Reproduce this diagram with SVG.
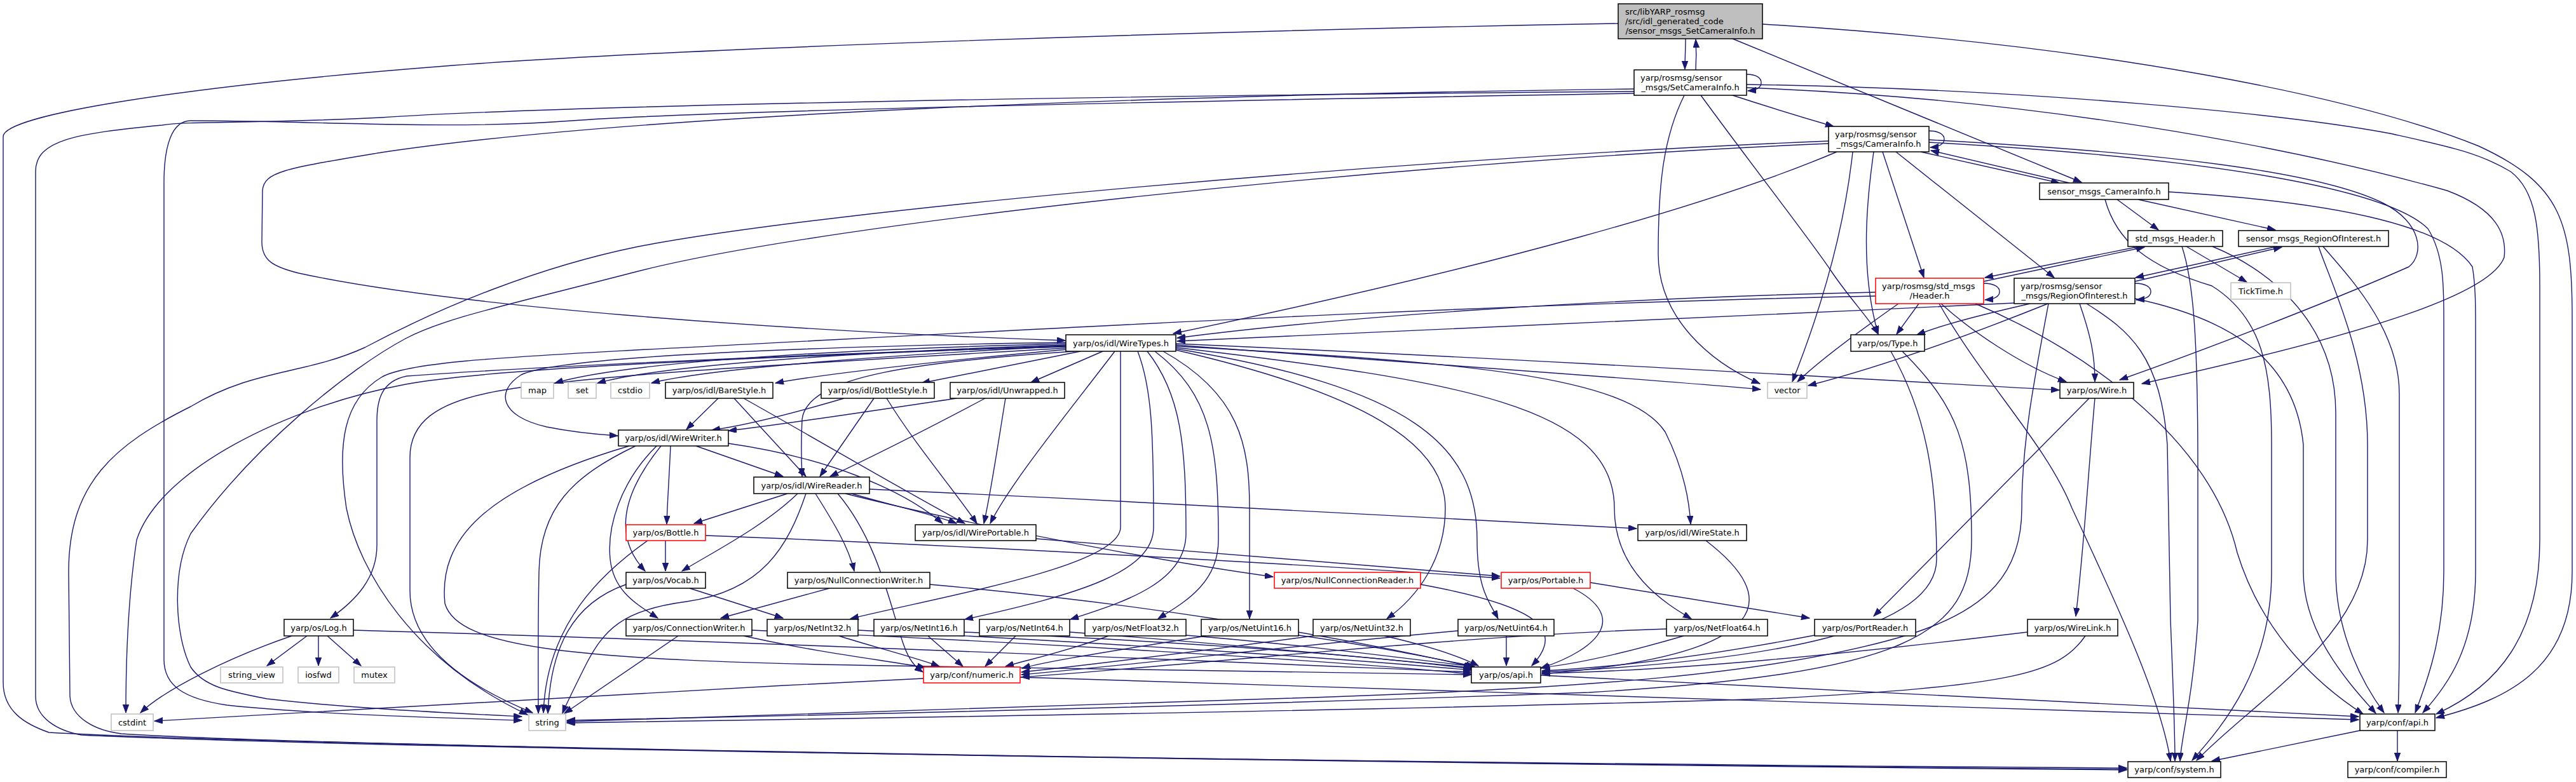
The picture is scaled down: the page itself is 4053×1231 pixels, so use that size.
<svg xmlns="http://www.w3.org/2000/svg" width="4053" height="1231" viewBox="0 0 4053 1231">
<style>
.e path{fill:none;stroke:#191970;stroke-width:1.4;marker-end:url(#ah)}
.n rect{fill:#fff;stroke:#000;stroke-width:1.5}
.g rect{fill:#fff;stroke:#bfbfbf;stroke-width:1.5}
.r rect{fill:#fff;stroke:#ff0000;stroke-width:1.5}
text{font-family:"DejaVu Sans","Liberation Sans",sans-serif;font-size:13px;fill:#000}
.c{text-anchor:middle}
</style>
<defs>
<marker id="ah" markerWidth="14" markerHeight="10" refX="13" refY="4.7" orient="auto" markerUnits="userSpaceOnUse">
<path d="M0,0 L13,4.7 L0,9.4 z" fill="#191970" stroke="#191970" stroke-width="1"/>
</marker>
</defs>
<rect width="4053" height="1231" fill="#fff"/>
<g id="edges" class="e">
<path d="M2652,61 C2652,78 2651,92 2651,109"/>
<path d="M2668,110 C2669,93 2669,78 2668,62"/>
<path d="M2748,117 C2764,117 2771,123 2771,130 C2771,137 2765,142 2750,143"/>
<path d="M2726,150 C2775,166 2830,183 2885,199"/>
<path d="M2726,61 L3275,287"/>
<path d="M3035,206 C3051,206 3059,212 3059,219 C3059,226 3053,231 3037,232"/>
<path d="M3022,239 L3240,288"/>
<path d="M3256,288 L3038,237"/>
<path d="M3331,314 L3396,362"/>
<path d="M3364,314 L3580,362"/>
<path d="M3366,388 L3123,437"/>
<path d="M3121,443 L3374,389"/>
<path d="M3582,388 L3360,437"/>
<path d="M3359,443 L3590,389"/>
<path d="M3121,446 C3138,446 3146,452 3146,459 C3146,466 3139,471 3123,472"/>
<path d="M3359,446 C3376,446 3384,452 3384,459 C3384,466 3377,471 3361,472"/>
<path d="M2962,239 L3027,437"/>
<path d="M2983,239 L3232,437"/>
<path d="M2948,239 C2935,330 2928,430 2955,526"/>
<path d="M2915,239 C2905,330 2880,450 2820,601"/>
<path d="M2890,239 C2700,320 2350,420 1846,525"/>
<path d="M3440,388 L3535,444"/>
<path d="M2676,150 C2760,265 2850,380 2880,425 C2910,470 2940,500 2955,526"/>
<path d="M2650,150 C2615,220 2609,300 2609,400 C2609,500 2690,570 2769,604"/>
<path d="M3019,478 L2984,526"/>
<path d="M3194,478 C3120,495 3060,510 3016,527"/>
<path d="M2987,478 C2920,525 2860,570 2828,601"/>
<path d="M3222,478 C3080,535 2950,580 2845,607"/>
<path d="M3054,478 C3100,520 3180,575 3251,601"/>
<path d="M3272,478 C3290,530 3296,560 3296,601"/>
<path d="M2951,460 C2500,470 2100,500 1852,532"/>
<path d="M3169,477 C2700,500 2200,520 1852,537"/>
<path d="M2773,38 C3300,70 3700,150 3900,230 C4030,290 4047,350 4047,500 L4047,900 C4047,1050 3950,1100 3833,1130"/>
<path d="M2748,133 C3200,140 3600,180 3760,210 C3850,230 3900,240 3950,270 C3990,300 3996,360 3996,450 L3996,850 C3996,1000 3930,1080 3833,1124"/>
<path d="M2748,138 C3200,155 3600,230 3850,300 C3930,330 3944,370 3940,405 C3920,460 3750,520 3370,604"/>
<path d="M3035,220 C3400,240 3650,270 3750,320 C3810,350 3815,400 3790,420 C3700,460 3500,540 3335,598"/>
<path d="M3035,224 C3500,250 3760,300 3820,360 C3845,400 3845,450 3845,500 L3845,900 C3845,1000 3820,1070 3800,1122"/>
<path d="M3412,302 C3700,320 3850,360 3890,420 C3895,450 3895,480 3895,520 L3895,900 C3895,1020 3850,1080 3812,1122"/>
<path d="M3655,388 C3700,440 3775,520 3775,620 L3775,1000 C3775,1060 3774,1095 3773,1122"/>
<path d="M3648,388 C3665,440 3725,560 3725,700 L3725,850 C3725,1000 3550,1100 3456,1197"/>
<path d="M3481,388 C3560,420 3675,500 3675,650 L3675,900 C3675,1000 3720,1080 3751,1122"/>
<path d="M3359,470 C3500,500 3610,560 3624,700 L3624,900 C3624,1000 3700,1080 3738,1123"/>
<path d="M3312,314 C3330,380 3380,420 3480,450 C3560,500 3574,580 3574,700 L3574,900 C3574,1050 3500,1140 3449,1197"/>
<path d="M3433,388 C3450,440 3458,520 3458,736 L3458,977 C3450,1100 3432,1160 3430,1198"/>
<path d="M3283,478 C3350,520 3400,560 3410,700 L3415,976 C3420,1100 3422,1160 3422,1198"/>
<path d="M3051,478 C3120,600 3220,700 3260,800 C3330,950 3400,1100 3415,1198"/>
<path d="M3108,478 C3300,560 3480,700 3520,870 C3560,1000 3650,1080 3718,1124"/>
<path d="M2975,553 C3030,650 3047,750 3047,880 C3047,990 2800,1040 2426,1058"/>
<path d="M2993,553 C3080,640 3102,700 3102,850 C3102,1000 3000,1060 2500,1090 C1800,1115 1200,1128 892,1134"/>
<path d="M3223,478 C3200,600 3181,700 3181,800 C3181,900 3130,960 3000,1000 C2800,1060 2500,1085 2000,1100 C1500,1115 1100,1128 892,1136"/>
<path d="M3287,627 L2948,970"/>
<path d="M3296,627 C3285,750 3280,850 3266,970"/>
<path d="M2502,917 L2847,973"/>
<path d="M2684,851 C2800,940 2800,1030 2426,1061"/>
<path d="M1630,848 C1900,870 2200,895 2360,907"/>
<path d="M1110,843 C1500,858 2000,885 2360,910"/>
<path d="M1330,777 C1500,820 1800,880 2003,908"/>
<path d="M483,1001 L420,1048"/>
<path d="M501,1001 L501,1048"/>
<path d="M515,1001 L568,1048"/>
<path d="M459,1001 C360,1035 260,1085 221,1122"/>
<path d="M1453,1068 C1000,1090 500,1120 243,1135"/>
<path d="M1677,544 C1300,560 800,575 638,605 C450,640 250,740 215,850 C200,950 198,1050 198,1122"/>
<path d="M556,992 C1200,1010 2000,1045 2315,1058"/>
<path d="M1605,1066 C2500,1090 3300,1118 3711,1133"/>
<path d="M2424,1063 C3000,1090 3400,1115 3711,1128"/>
<path d="M3713,1150 L3480,1198"/>
<path d="M3772,1150 L3772,1198"/>
<path d="M1320,1001 C1380,1020 1440,1035 1478,1049"/>
<path d="M1350,992 C1700,1010 2100,1035 2315,1055"/>
<path d="M1460,1001 L1515,1049"/>
<path d="M1517,995 C1900,1012 2150,1032 2316,1053"/>
<path d="M1598,1001 L1550,1049"/>
<path d="M1683,995 C1950,1015 2150,1035 2316,1051"/>
<path d="M1744,1001 C1680,1025 1620,1038 1582,1049"/>
<path d="M1866,1000 C2050,1015 2200,1035 2317,1049"/>
<path d="M1897,1001 C1750,1025 1650,1040 1608,1052"/>
<path d="M2043,1000 C2150,1015 2250,1035 2320,1049"/>
<path d="M2066,1001 C1850,1030 1700,1048 1607,1058"/>
<path d="M2178,1001 C2240,1015 2290,1030 2326,1048"/>
<path d="M2294,993 C2000,1020 1800,1045 1607,1062"/>
<path d="M2370,1001 L2370,1048"/>
<path d="M2622,990 C2300,1000 1900,1045 1607,1066"/>
<path d="M2649,1001 C2550,1030 2480,1045 2425,1051"/>
<path d="M2855,1000 C2700,1030 2550,1050 2426,1056"/>
<path d="M3190,995 C2900,1030 2650,1055 2426,1060"/>
<path d="M3281,1001 C3240,1060 3170,1080 2783,1100 C2200,1118 1400,1130 892,1138"/>
<path d="M1067,1001 L888,1123"/>
<path d="M1170,1001 C1300,1030 1400,1040 1456,1051"/>
<path d="M1183,992 C1600,1010 2100,1040 2315,1061"/>
<path d="M1305,926 L1134,973"/>
<path d="M1463,920 C1800,950 2100,1000 2318,1050"/>
<path d="M1085,926 L1232,973"/>
<path d="M985,920 C900,950 866,1020 862,1123"/>
<path d="M1047,851 L1047,899"/>
<path d="M1019,851 C950,900 860,980 855,1122"/>
<path d="M1095,702 L1232,750"/>
<path d="M1055,702 C1053,750 1050,790 1049,825"/>
<path d="M1040,702 C985,770 960,840 1015,899"/>
<path d="M1033,702 C975,760 955,830 960,880 C965,930 1000,950 1035,973"/>
<path d="M1000,702 C900,750 850,800 848,900 C846,1000 847,1080 847,1123"/>
<path d="M990,702 C760,770 690,850 700,950 C720,1020 900,1040 1400,1048 C1800,1053 2100,1057 2315,1062"/>
<path d="M1146,698 C1300,720 1420,770 1483,824"/>
<path d="M1239,777 L1092,824"/>
<path d="M1255,777 C1200,830 1120,870 1073,899"/>
<path d="M1268,777 C1240,860 1200,930 1080,947 C980,960 950,990 920,1050 C900,1090 890,1110 885,1123"/>
<path d="M1283,777 C1310,820 1335,860 1344,899"/>
<path d="M1368,770 C1800,790 2300,815 2575,832"/>
<path d="M1340,777 C1400,795 1470,810 1505,824"/>
<path d="M1318,777 C1380,850 1400,950 1420,1010 C1430,1040 1440,1050 1452,1058"/>
<path d="M2235,920 C2400,950 2470,985 2410,1048"/>
<path d="M2475,926 C2560,970 2520,1020 2424,1052"/>
<path d="M1130,627 L1080,676"/>
<path d="M1155,627 L1268,750"/>
<path d="M1170,627 C1300,700 1400,760 1518,824"/>
<path d="M1328,627 C1250,650 1170,670 1120,677"/>
<path d="M1375,627 L1290,750"/>
<path d="M1395,627 C1440,700 1500,770 1537,824"/>
<path d="M1505,627 C1350,650 1220,670 1146,678"/>
<path d="M1550,627 C1450,680 1370,720 1306,750"/>
<path d="M1582,627 C1570,700 1560,770 1548,824"/>
<path d="M1677,541 C1400,548 1000,565 873,603"/>
<path d="M1677,543 C1400,552 1050,572 940,603"/>
<path d="M1677,545 C1450,556 1120,578 1025,603"/>
<path d="M1680,550 C1500,566 1300,588 1220,603"/>
<path d="M1700,553 L1450,603"/>
<path d="M1735,553 L1622,602"/>
<path d="M1754,553 C1680,650 1590,760 1558,824"/>
<path d="M1763,553 L1763,830 C1763,890 1500,935 1338,974"/>
<path d="M1790,553 C1812,610 1815,680 1815,830 C1815,900 1700,935 1518,975"/>
<path d="M1805,553 C1858,620 1866,700 1866,840 C1866,920 1760,950 1684,975"/>
<path d="M1817,553 C1905,620 1917,700 1917,850 C1917,920 1860,950 1822,974"/>
<path d="M1830,553 C1950,620 1966,700 1966,800 L1966,974"/>
<path d="M1850,551 C2150,620 2274,700 2274,800 C2274,880 2230,940 2182,974"/>
<path d="M1850,549 C2220,610 2324,700 2324,850 C2324,930 2345,950 2357,974"/>
<path d="M1850,547 C2300,600 2540,640 2540,800 C2540,900 2620,950 2661,974"/>
<path d="M1850,545 C2300,570 2560,590 2620,680 C2650,740 2658,790 2660,825"/>
<path d="M1850,543 C2200,570 2600,597 2770,613"/>
<path d="M1850,541 C2400,565 2900,595 3240,614"/>
<path d="M1677,539 C1300,545 880,560 820,590 C780,615 785,655 860,672 C900,680 940,684 972,686"/>
<path d="M1690,553 C1450,570 1270,590 1262,660 C1260,700 1261,730 1262,750"/>
<path d="M1677,548 C1300,570 900,590 766,619 C690,635 645,663 645,720 L645,930 C645,1030 760,1090 838,1122"/>
<path d="M1677,546 C1300,555 800,580 640,592 C600,600 593,630 593,663 L593,858 C593,910 560,945 520,973"/>
<path d="M2951,466 C2300,480 1700,515 1000,551 C800,562 640,570 600,594 C540,630 530,700 545,800 C565,900 650,1040 830,1125"/>
<path d="M2546,37 C1800,50 1000,80 700,104 C300,135 5,180 5,215 L5,1074 C5,1120 40,1140 77,1153 C400,1172 2000,1200 3346,1211"/>
<path d="M2571,144 C1800,150 900,165 600,185 C400,195 300,190 255,197 C120,210 56,220 56,270 L56,1096 C56,1130 90,1150 128,1157 C500,1175 2000,1200 3346,1209"/>
<path d="M2877,222 C2200,250 1300,330 1000,389 C850,420 700,480 574,547 C480,590 400,580 300,640 C180,700 108,760 108,900 L110,1096 C112,1130 150,1150 191,1155 C500,1175 2000,1200 3346,1212"/>
<path d="M2571,147 C1800,160 1100,175 900,190 C700,205 500,190 300,190 C270,190 258,230 258,288 L258,1038 C258,1080 290,1100 357,1110 C500,1125 700,1130 821,1134"/>
<path d="M2571,140 C1800,150 1000,180 600,240 C450,265 415,270 413,300 L412,381 C412,410 430,420 470,430 C700,480 1200,520 1676,536"/>
<path d="M2877,226 C2200,255 1300,350 1000,428 C800,480 700,500 638,533 C550,580 400,700 300,840 C270,900 275,1000 300,1050 C320,1080 357,1088 420,1100 C550,1115 700,1122 821,1128"/>
</g>
<g id="n0" class="n"><rect x="2546" y="6" width="227" height="55" style="fill:#bfbfbf"/><text x="2557" y="22.5">src/libYARP_rosmsg</text><text x="2557" y="37.5">/src/idl_generated_code</text><text x="2659.5" y="52.5" class="c">/sensor_msgs_SetCameraInfo.h</text></g>
<g id="n1" class="n"><rect x="2571" y="110" width="177" height="40"/><text x="2581" y="126.5">yarp/rosmsg/sensor</text><text x="2659.5" y="141.5" class="c">_msgs/SetCameraInfo.h</text></g>
<g id="n2" class="n"><rect x="2877" y="199" width="158" height="40"/><text x="2887" y="215.5">yarp/rosmsg/sensor</text><text x="2956" y="230.5" class="c">_msgs/CameraInfo.h</text></g>
<g id="n3" class="n"><rect x="3209" y="288" width="203" height="26"/><text x="3310.5" y="305.5" class="c">sensor_msgs_CameraInfo.h</text></g>
<g id="n4" class="n"><rect x="3348" y="363" width="149" height="25"/><text x="3422.5" y="380" class="c">std_msgs_Header.h</text></g>
<g id="n5" class="n"><rect x="3522" y="363" width="236" height="25"/><text x="3640" y="380" class="c">sensor_msgs_RegionOfInterest.h</text></g>
<g id="n6" class="r"><rect x="2951" y="438" width="170" height="40"/><text x="2961" y="454.5">yarp/rosmsg/std_msgs</text><text x="3036" y="469.5" class="c">/Header.h</text></g>
<g id="n7" class="n"><rect x="3169" y="438" width="190" height="40"/><text x="3179" y="454.5">yarp/rosmsg/sensor</text><text x="3264" y="469.5" class="c">_msgs/RegionOfInterest.h</text></g>
<g id="n8" class="g"><rect x="3510" y="445" width="94" height="26"/><text x="3557" y="462.5" class="c">TickTime.h</text></g>
<g id="n9" class="n"><rect x="1677" y="527" width="173" height="26"/><text x="1763.5" y="544.5" class="c">yarp/os/idl/WireTypes.h</text></g>
<g id="n10" class="n"><rect x="2912" y="527" width="116" height="26"/><text x="2970" y="544.5" class="c">yarp/os/Type.h</text></g>
<g id="n11" class="g"><rect x="820" y="602" width="51" height="25"/><text x="845.5" y="619" class="c">map</text></g>
<g id="n12" class="g"><rect x="894" y="602" width="44" height="25"/><text x="916" y="619" class="c">set</text></g>
<g id="n13" class="g"><rect x="961" y="602" width="61" height="25"/><text x="991.5" y="619" class="c">cstdio</text></g>
<g id="n14" class="n"><rect x="1047" y="602" width="169" height="25"/><text x="1131.5" y="619" class="c">yarp/os/idl/BareStyle.h</text></g>
<g id="n15" class="n"><rect x="1292" y="602" width="178" height="25"/><text x="1381" y="619" class="c">yarp/os/idl/BottleStyle.h</text></g>
<g id="n16" class="n"><rect x="1495" y="602" width="180" height="25"/><text x="1585" y="619" class="c">yarp/os/idl/Unwrapped.h</text></g>
<g id="n17" class="g"><rect x="2781" y="602" width="62" height="25"/><text x="2812" y="619" class="c">vector</text></g>
<g id="n18" class="n"><rect x="3241" y="602" width="116" height="25"/><text x="3299" y="619" class="c">yarp/os/Wire.h</text></g>
<g id="n19" class="n"><rect x="973" y="677" width="173" height="25"/><text x="1059.5" y="694" class="c">yarp/os/idl/WireWriter.h</text></g>
<g id="n20" class="n"><rect x="1186" y="751" width="182" height="26"/><text x="1277" y="768.5" class="c">yarp/os/idl/WireReader.h</text></g>
<g id="n21" class="r"><rect x="985" y="826" width="125" height="25"/><text x="1047.5" y="843" class="c">yarp/os/Bottle.h</text></g>
<g id="n22" class="n"><rect x="1440" y="826" width="190" height="25"/><text x="1535" y="843" class="c">yarp/os/idl/WirePortable.h</text></g>
<g id="n23" class="n"><rect x="2577" y="826" width="171" height="25"/><text x="2662.5" y="843" class="c">yarp/os/idl/WireState.h</text></g>
<g id="n24" class="n"><rect x="985" y="901" width="125" height="25"/><text x="1047.5" y="918" class="c">yarp/os/Vocab.h</text></g>
<g id="n25" class="n"><rect x="1239" y="901" width="224" height="25"/><text x="1351" y="918" class="c">yarp/os/NullConnectionWriter.h</text></g>
<g id="n26" class="r"><rect x="2005" y="901" width="230" height="25"/><text x="2120" y="918" class="c">yarp/os/NullConnectionReader.h</text></g>
<g id="n27" class="r"><rect x="2362" y="901" width="140" height="25"/><text x="2432" y="918" class="c">yarp/os/Portable.h</text></g>
<g id="n28" class="n"><rect x="447" y="975" width="109" height="26"/><text x="501.5" y="992.5" class="c">yarp/os/Log.h</text></g>
<g id="n29" class="n"><rect x="985" y="975" width="198" height="26"/><text x="1084" y="992.5" class="c">yarp/os/ConnectionWriter.h</text></g>
<g id="n30" class="n"><rect x="1207" y="975" width="143" height="26"/><text x="1278.5" y="992.5" class="c">yarp/os/NetInt32.h</text></g>
<g id="n31" class="n"><rect x="1375" y="975" width="142" height="26"/><text x="1446" y="992.5" class="c">yarp/os/NetInt16.h</text></g>
<g id="n32" class="n"><rect x="1541" y="975" width="142" height="26"/><text x="1612" y="992.5" class="c">yarp/os/NetInt64.h</text></g>
<g id="n33" class="n"><rect x="1707" y="975" width="159" height="26"/><text x="1786.5" y="992.5" class="c">yarp/os/NetFloat32.h</text></g>
<g id="n34" class="n"><rect x="1890" y="975" width="153" height="26"/><text x="1966.5" y="992.5" class="c">yarp/os/NetUint16.h</text></g>
<g id="n35" class="n"><rect x="2066" y="975" width="153" height="26"/><text x="2142.5" y="992.5" class="c">yarp/os/NetUint32.h</text></g>
<g id="n36" class="n"><rect x="2294" y="975" width="151" height="26"/><text x="2369.5" y="992.5" class="c">yarp/os/NetUint64.h</text></g>
<g id="n37" class="n"><rect x="2622" y="975" width="159" height="26"/><text x="2701.5" y="992.5" class="c">yarp/os/NetFloat64.h</text></g>
<g id="n38" class="n"><rect x="2855" y="975" width="159" height="26"/><text x="2934.5" y="992.5" class="c">yarp/os/PortReader.h</text></g>
<g id="n39" class="n"><rect x="3190" y="975" width="142" height="26"/><text x="3261" y="992.5" class="c">yarp/os/WireLink.h</text></g>
<g id="n40" class="g"><rect x="347" y="1050" width="98" height="25"/><text x="396" y="1067" class="c">string_view</text></g>
<g id="n41" class="g"><rect x="469" y="1050" width="64" height="25"/><text x="501" y="1067" class="c">iosfwd</text></g>
<g id="n42" class="g"><rect x="557" y="1050" width="64" height="25"/><text x="589" y="1067" class="c">mutex</text></g>
<g id="n43" class="r"><rect x="1453" y="1050" width="152" height="25"/><text x="1529" y="1067" class="c">yarp/conf/numeric.h</text></g>
<g id="n44" class="n"><rect x="2315" y="1050" width="109" height="25"/><text x="2369.5" y="1067" class="c">yarp/os/api.h</text></g>
<g id="n45" class="g"><rect x="175" y="1124" width="66" height="26"/><text x="208" y="1141.5" class="c">cstdint</text></g>
<g id="n46" class="g"><rect x="832" y="1124" width="58" height="26"/><text x="861" y="1141.5" class="c">string</text></g>
<g id="n47" class="n"><rect x="3713" y="1124" width="118" height="26"/><text x="3772" y="1141.5" class="c">yarp/conf/api.h</text></g>
<g id="n48" class="n"><rect x="3348" y="1199" width="146" height="25"/><text x="3421" y="1216" class="c">yarp/conf/system.h</text></g>
<g id="n49" class="n"><rect x="3694" y="1199" width="155" height="25"/><text x="3771.5" y="1216" class="c">yarp/conf/compiler.h</text></g>
</svg>
